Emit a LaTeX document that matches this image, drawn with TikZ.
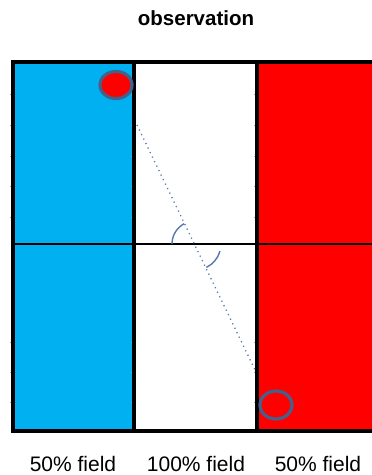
\documentclass[tikz,border=0pt]{standalone}
\usepackage{fontspec}
\setmainfont{Liberation Sans}
\definecolor{flagblue}{HTML}{00B0F0}
\definecolor{flagred}{HTML}{FF0000}
\definecolor{ringc}{HTML}{46608C}
\definecolor{dotc}{HTML}{5579B0}
\begin{document}
\begin{tikzpicture}[x=1pt,y=-1pt,
  gridline/.style={black,line width=3.2pt},
  midline/.style={black,line width=2.4pt},
  tickline/.style={gray!70,line width=0.6pt},
  ring/.style={draw=ringc,line width=3.2pt},
  sightline/.style={dotc,line width=1.3pt,dash pattern=on 1.2pt off 3.8pt},
  anglemark/.style={dotc,line width=1.4pt},
  lbl/.style={anchor=base,font=\fontsize{21}{24}\selectfont},
  ttl/.style={anchor=base,font=\fontsize{20.5}{24}\selectfont\bfseries}]
\useasboundingbox (0,0) rectangle (372,475);
% fills
\fill[flagblue] (13,62) rectangle (134,431);
\fill[flagred] (257,62) rectangle (372,431);
% ticks
\foreach \xx in {13,134,257}{
  \foreach \yy in {94,125,156,186,217,342,372,402}{
    \draw[tickline] (\xx-3,\yy) -- (\xx,\yy);
  }
}
% grid
\draw[midline] (13,244) -- (372,244);
\draw[gridline] (372,62) -- (13,62) -- (13,431) -- (372,431);
\draw[gridline] (134,62) -- (134,431);
\draw[gridline] (257,62) -- (257,431);
% sight line
\coordinate (p1) at (137,125);
\coordinate (p2) at (256,372);
\coordinate (c) at (195,244);
\draw[sightline] (p1) -- (p2);
\draw[anglemark] (c) ++(180:23) arc[start angle=180,end angle=242,radius=23];
\draw[anglemark] (c) ++(16:26) arc[start angle=16,end angle=64,radius=26];
% circles
\draw[ring,fill=flagred] (116,85) ellipse[x radius=16,y radius=13.5];
\draw[ring] (276,405) ellipse[x radius=16,y radius=14];
% labels
\node[ttl] (title) at (196,25) {observation};
\node[lbl] (l1) at (73,471) {50\% field};
\node[lbl] (l2) at (196,471) {100\% field};
\node[lbl] (l3) at (318,471) {50\% field};
\end{tikzpicture}
\end{document}
